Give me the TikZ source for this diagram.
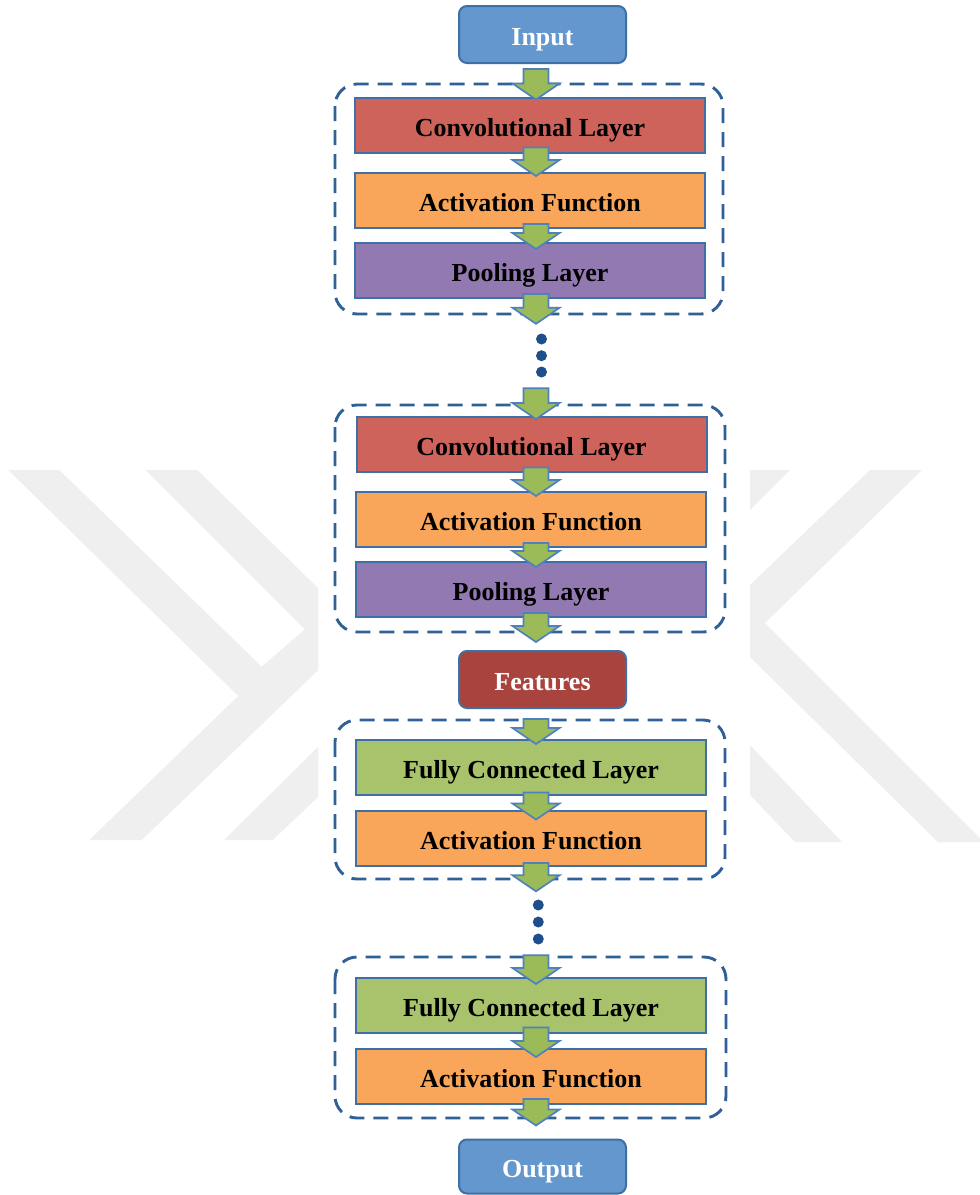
\documentclass[tikz,border=0pt]{standalone}
\usepackage{fontspec}
\setmainfont{Liberation Serif}
\usetikzlibrary{calc}

\definecolor{boxline}{HTML}{3E6FA5}
\definecolor{termblue}{HTML}{6497CD}
\definecolor{convred}{HTML}{CD635A}
\definecolor{actorange}{HTML}{F9A65A}
\definecolor{poolpurple}{HTML}{9379B1}
\definecolor{fcgreen}{HTML}{A8C36C}
\definecolor{featred}{HTML}{A8433D}
\definecolor{groupline}{HTML}{2F6096}
\definecolor{arrowfill}{HTML}{9BBB59}
\definecolor{arrowline}{HTML}{4F81BD}
\definecolor{dotblue}{HTML}{1F4E8C}
\definecolor{wmgray}{HTML}{EFEFEF}

% block arrow from a start point (#1, top of shaft) down to a tip (#2)
\newcommand\flowarrow[2]{%
  \draw[flowarrow] let \p1=(#1), \p2=(#2) in
    (\x1-12.5pt,\y1) -- (\x1-12.5pt,\y2+16pt) -- (\x1-23.5pt,\y2+16pt)
    -- (\x1,\y2) -- (\x1+23.5pt,\y2+16pt) -- (\x1+12.5pt,\y2+16pt)
    -- (\x1+12.5pt,\y1) -- cycle;}

\begin{document}
\begin{tikzpicture}[x=1pt,y=-1pt,
  layer/.style={draw=boxline, line width=2pt, minimum width=350pt,
    minimum height=55pt, inner sep=0pt, text height=22pt, text depth=0pt,
    font=\fontsize{26}{30}\selectfont\bfseries, text=black},
  terminal/.style={layer, rounded corners=8pt, minimum width=167pt,
    minimum height=57pt, text=white},
  group/.style={draw=groupline, line width=2.9pt,
    dash pattern=on 15pt off 9pt, rounded corners=22pt},
  flowarrow/.style={fill=arrowfill, draw=arrowline, line width=1.7pt,
    line join=miter},
  ellipsisdot/.style={circle, fill=dotblue, inner sep=0pt, minimum size=11pt},
  watermark/.style={fill=wmgray, draw=none}]

\useasboundingbox (0,0) rectangle (980,1195);
\fill[white] (0,0) rectangle (980,1195);

% faint background emblem
\fill[watermark] (8.3,470) -- (59.3,470) -- (261.7,666.7) -- (305,629.3)
  -- (145.7,470) -- (197.3,470) -- (318.3,588.3) -- (318.3,670)
  -- (141.7,840) -- (89.3,840) -- (238.3,696) -- cycle;
\fill[watermark] (224,840) -- (272.7,840) -- (318.3,796.7) -- (318.3,746.7) -- cycle;
\fill[watermark] (750,470) -- (790,470) -- (750,510) -- cycle;
\fill[watermark] (750,585) -- (870,470) -- (922,470) -- (765,623)
  -- (980,838) -- (980,842) -- (938,842) -- (750,657) -- cycle;
\fill[watermark] (750,745) -- (842,842) -- (795,842) -- (750,795) -- cycle;

% dashed groups
\draw[group] (335,84) rectangle (723,314);
\draw[group] (335,405) rectangle (725,632);
\draw[group] (335,720) rectangle (725,879);
\draw[group] (335,957) rectangle (726,1118);

% terminals
\node[terminal, fill=termblue] (input) at (542.5,34.5) {Input};
\node[terminal, fill=featred] (features) at (542.5,679.5) {Features};
\node[terminal, fill=termblue, minimum height=54pt] (output) at (542.5,1166.5) {Output};

% feature extraction blocks
\node[layer, fill=convred] (conv1) at (530,125) {Convolutional Layer};
\node[layer, fill=actorange] (act1) at (530,200.5) {Activation Function};
\node[layer, fill=poolpurple] (pool1) at (530,270.5) {Pooling Layer};

\node[layer, fill=convred] (conv2) at (531.5,444) {Convolutional Layer};
\node[layer, fill=actorange] (act2) at (531,519.5) {Activation Function};
\node[layer, fill=poolpurple] (pool2) at (531,589.5) {Pooling Layer};

% classification blocks
\node[layer, fill=fcgreen] (fc1) at (531,767) {Fully Connected Layer};
\node[layer, fill=actorange] (act3) at (531,838) {Activation Function};

\node[layer, fill=fcgreen] (fc2) at (531,1005) {Fully Connected Layer};
\node[layer, fill=actorange] (act4) at (531,1076) {Activation Function};

% vertical ellipses
\node[ellipsisdot] (dotA1) at (541.5,339) {};
\node[ellipsisdot] (dotA2) at (541.5,355.7) {};
\node[ellipsisdot] (dotA3) at (541.5,372) {};
\node[ellipsisdot] (dotB1) at (538.3,905) {};
\node[ellipsisdot] (dotB2) at (538.3,922) {};
\node[ellipsisdot] (dotB3) at (538.3,939) {};

% flow arrows
\coordinate (axis) at (536,0);
\flowarrow{$(axis |- input.south)+(0,5)$}{$(conv1.north)+(0,3)$}
\flowarrow{$(axis |- conv1.south)+(0,-6)$}{$(act1.north)+(0,4)$}
\flowarrow{$(axis |- act1.south)+(0,-5)$}{$(pool1.north)+(0,7)$}
\flowarrow{$(axis |- pool1.south)+(0,-5)$}{$(dotA1.north)+(0,-9.5)$}
\flowarrow{$(axis |- dotA3.south)+(0,10.5)$}{$(conv2.north)+(0,3.5)$}
\flowarrow{$(axis |- conv2.south)+(0,-5)$}{$(act2.north)+(0,5)$}
\flowarrow{$(axis |- act2.south)+(0,-5)$}{$(pool2.north)+(0,6)$}
\flowarrow{$(axis |- pool2.south)+(0,-5)$}{$(features.north)+(0,-8)$}
\flowarrow{$(axis |- features.south)+(0,10)$}{$(fc1.north)+(0,5.5)$}
\flowarrow{$(axis |- fc1.south)+(0,-3)$}{$(act3.north)+(0,10)$}
\flowarrow{$(axis |- act3.south)+(0,-3.5)$}{$(dotB1.north)+(0,-8)$}
\flowarrow{$(axis |- dotB3.south)+(0,10.5)$}{$(fc2.north)+(0,7.5)$}
\flowarrow{$(axis |- fc2.south)+(0,-6)$}{$(act4.north)+(0,9.5)$}
\flowarrow{$(axis |- act4.south)+(0,-5.5)$}{$(output.north)+(0,-13)$}

\end{tikzpicture}
\end{document}
